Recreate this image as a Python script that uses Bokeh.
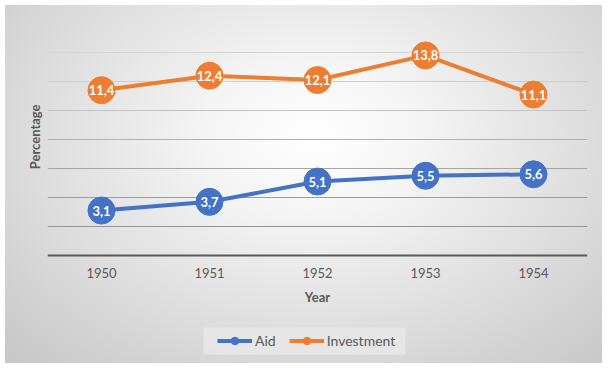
from bokeh.plotting import figure
from bokeh.models import (FactorRange, Range1d, Legend, LegendItem, FixedTicker,
                          Title, Grid, BoxAnnotation)
from bokeh.core.properties import value
from bokeh.embed import file_html
from bokeh.resources import INLINE

years = ["1950", "1951", "1952", "1953", "1954"]
aid = [3.1, 3.7, 5.1, 5.5, 5.6]
investment = [11.4, 12.4, 12.1, 13.8, 11.1]
y_ticks = [0, 2, 4, 6, 8, 10, 12, 14, 16]
# gridline shades (darker towards the bottom, as in the reference)
grid_colors = ["#595959", "#959595", "#9c9c9c", "#a5a5a5", "#b0b0b0",
               "#c2c2c2", "#cdcdcd", "#d6d6d6", "#dedede"]

AID_C = "#4472C4"
INV_C = "#ED7D31"
TXT_C = "#595959"
FONT = "Lato"

W, H = 602, 363
TOP, LEFT, RIGHT = 23, 47, 15
GRID_H = 232                      # pixel height of the 0..16 value band
FRAME_H = H - TOP
Y_MAX = y_ticks[-1]
Y_MIN = Y_MAX - FRAME_H * Y_MAX / GRID_H   # room below 0 for axis texts and legend

p = figure(width=W, height=H,
           x_range=FactorRange(*years, range_padding=0),
           y_range=Range1d(Y_MIN, Y_MAX),
           output_backend="svg", toolbar_location=None,
           min_border_left=LEFT, min_border_right=RIGHT,
           min_border_top=TOP, min_border_bottom=0)

p.background_fill_alpha = 0
p.border_fill_alpha = 0
p.outline_line_color = None
p.styles = {
    "background": "radial-gradient(ellipse farthest-corner at 52% 38%, #ffffff 0%, #f4f4f4 25%, #c6c6c6 100%)",
    "box-shadow": "inset 5px 5px 0 0 #ffffff",
}

# grid: one grid line per tick so each can carry its own shade
p.xgrid.grid_line_color = None
p.ygrid.grid_line_color = None
for t, c in zip(y_ticks[1:], grid_colors[1:]):
    p.add_layout(Grid(dimension=1, ticker=FixedTicker(ticks=[t]),
                      grid_line_color=c, grid_line_width=1))

# y axis (no ticks / labels)
p.yaxis.ticker = FixedTicker(ticks=y_ticks)
p.yaxis.major_label_overrides = {t: "" for t in y_ticks}
p.yaxis.axis_line_color = None
p.yaxis.major_tick_line_color = None
p.yaxis.minor_tick_line_color = None
p.yaxis.major_tick_out = 0
p.yaxis.major_tick_in = 0
p.yaxis.minor_tick_out = 0
p.yaxis.major_label_standoff = 0

p.add_layout(Title(text="Percentage", align="right", offset=81, standoff=10,
                   text_font=FONT, text_font_style="bold",
                   text_font_size="13px", text_color=TXT_C), "left")

# x axis sits at value 0
p.xaxis.fixed_location = 0
p.xaxis.axis_line_color = grid_colors[0]
p.xaxis.axis_line_width = 2
p.xaxis.major_tick_line_color = None
p.xaxis.minor_tick_line_color = None
p.xaxis.major_tick_out = 0
p.xaxis.major_tick_in = 0
p.xaxis.major_label_standoff = 12
p.xaxis.major_label_text_font = FONT
p.xaxis.major_label_text_font_size = "13px"
p.xaxis.major_label_text_color = TXT_C
p.xaxis.axis_label = "Year"
p.xaxis.axis_label_text_font = FONT
p.xaxis.axis_label_text_font_style = "bold"
p.xaxis.axis_label_text_font_size = "13px"
p.xaxis.axis_label_text_color = TXT_C
p.xaxis.axis_label_standoff = 8

# series
aid_line = p.line(years, aid, line_width=4, color=AID_C)
aid_pts = p.scatter(years, aid, size=27, fill_color=AID_C, line_color=AID_C)
inv_line = p.line(years, investment, line_width=4, color=INV_C)
inv_pts = p.scatter(years, investment, size=27, fill_color=INV_C, line_color=INV_C)

def fmt(v):
    return f"{v:.1f}".replace(".", ",")

for vals in (aid, investment):
    p.text(x=years, y=vals, text=[fmt(v) for v in vals],
           text_align="center", text_baseline="middle",
           text_color="white", text_font=value(FONT),
           text_font_style="bold", text_font_size="13px")

# legend backdrop box
p.add_layout(BoxAnnotation(left=203, right=405, top=327, bottom=354,
                           left_units="canvas", right_units="canvas",
                           top_units="canvas", bottom_units="canvas",
                           fill_color="#e8e8e8", fill_alpha=0.85,
                           line_color=None, level="underlay"))

legend = Legend(items=[LegendItem(label="Aid", renderers=[aid_line, aid_pts]),
                       LegendItem(label="Investment", renderers=[inv_line, inv_pts])],
                orientation="horizontal", location=(170, 13), margin=0,
                padding=4, spacing=13, glyph_width=35, glyph_height=19,
                label_height=19, label_standoff=3,
                label_text_font=FONT, label_text_font_size="14px",
                label_text_color=TXT_C,
                background_fill_alpha=0, border_line_color=None)
p.add_layout(legend, "center")

open("out.html", "w").write(file_html(p, INLINE))
